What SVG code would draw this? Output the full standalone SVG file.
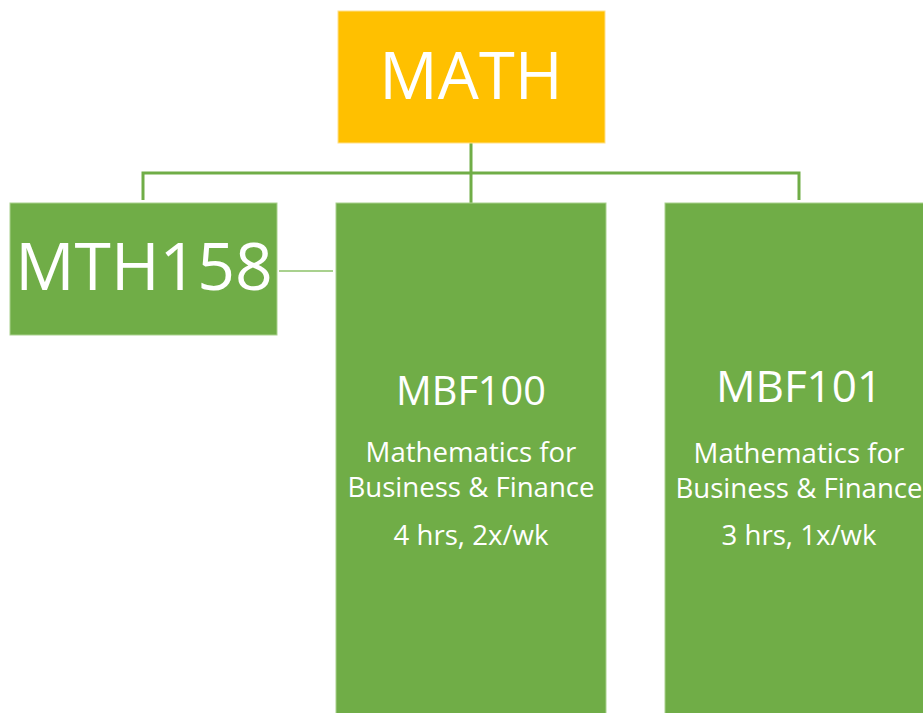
<svg xmlns="http://www.w3.org/2000/svg" width="923" height="713" viewBox="0 0 923 713">
<style>
.t{font-family:"Open Sans","Liberation Sans",sans-serif;fill:#fff;text-anchor:middle}
.s{font-size:27.6px}
.c{fill:none;stroke:#70AD47;stroke-width:3}
.g{fill:#70AD47;stroke:#A9D18E;stroke-width:1}
</style>
<rect width="923" height="713" fill="#fff"/>
<g id="connectors">
<path class="c" d="M471 143V204M143 200V173H799V200"/>
<path d="M279 271H333" stroke="#A9D18E" stroke-width="2" fill="none"/>
</g>
<g id="math">
<rect x="338" y="11" width="267" height="132" fill="#FFC000" stroke="#FFE08A" stroke-width="1"/>
<text class="t" x="471" y="99" font-size="65">MATH</text>
</g>
<g id="mth158">
<rect class="g" x="10" y="203" width="267" height="132"/>
<text class="t" x="144" y="290" font-size="66">MTH158</text>
</g>
<g id="mbf100">
<rect class="g" x="336" y="203" width="270" height="520"/>
<text class="t" x="471" y="405" font-size="39.7">MBF100</text>
<text class="t s" x="471" y="462">Mathematics for</text>
<text class="t s" x="471" y="497">Business &amp; Finance</text>
<text class="t s" x="471" y="545">4 hrs, 2x/wk</text>
</g>
<g id="mbf101">
<rect class="g" x="665" y="203" width="270" height="520"/>
<text class="t" x="799" y="402" font-size="44">MBF101</text>
<text class="t s" x="799" y="463">Mathematics for</text>
<text class="t s" x="799" y="498">Business &amp; Finance</text>
<text class="t s" x="799" y="545">3 hrs, 1x/wk</text>
</g>
</svg>
